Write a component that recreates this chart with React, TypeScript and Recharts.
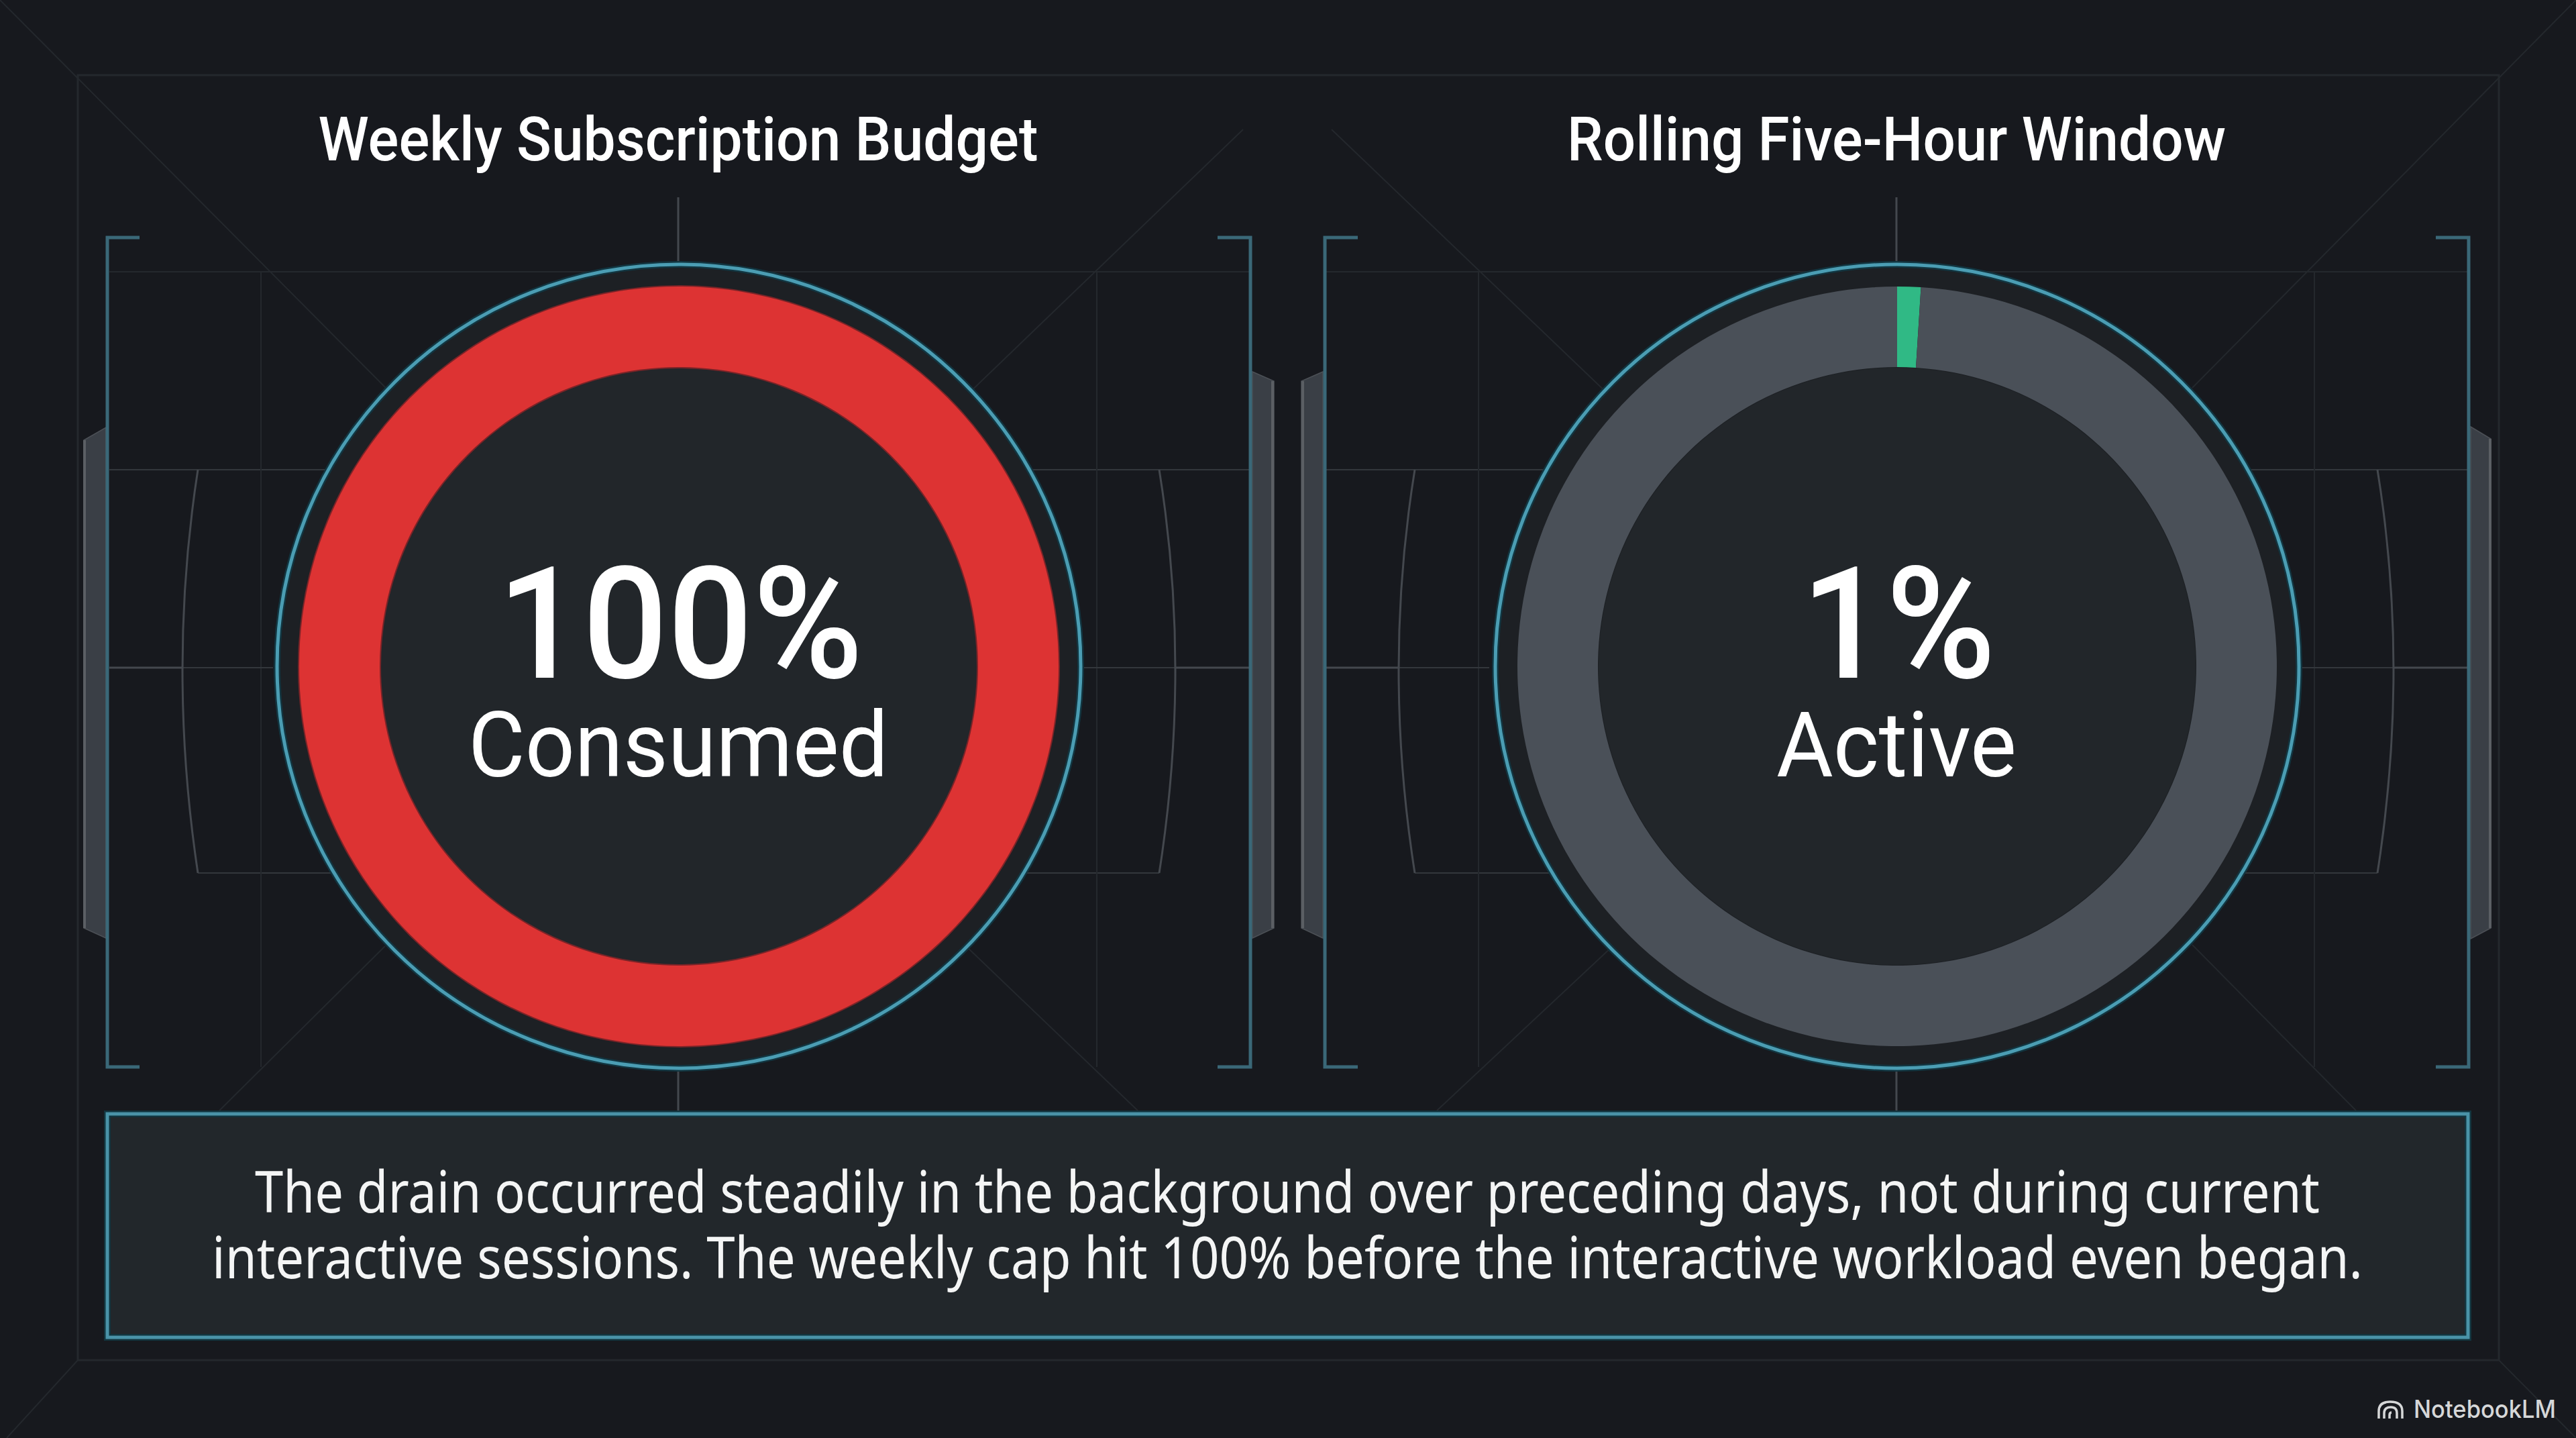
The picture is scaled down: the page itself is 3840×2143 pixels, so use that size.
import React from "react";
import { PieChart, Pie, Cell } from "recharts";

const W = 3840;
const H = 2143;

const weeklyLabels = ["Consumed", "Remaining"];
const weeklyValues = [100, 0];
const weeklyColors = ["#dd3333", "#4a5058"];
const rollingLabels = ["Active", "Idle"];
const rollingValues = [1, 99];
const rollingColors = ["#30b985", "#4a5058"];

const titles = ["Weekly Subscription Budget", "Rolling Five-Hour Window"];
const bigLabels = ["100%", "1%"];
const subLabels = ["Consumed", "Active"];
const noteLines = [
  "The drain occurred steadily in the background over preceding days, not during current",
  "interactive sessions. The weekly cap hit 100% before the interactive workload even began.",
];
const brand = "NotebookLM";

const weeklyData = weeklyLabels.map((name, i) => ({ name, value: weeklyValues[i] }));
const rollingData = rollingLabels.map((name, i) => ({ name, value: rollingValues[i] }));

const CY = 993;
const CX = [1012, 2828];
const TX = [1011, 2827];
const R_IN = 446;
const R_OUT = 566;
const R_RING = 599;

const FAINT = "#24282d";
const MID = "#33373c";
const STRONG = "#44484e";
const TEAL = "#4b9db3";
const BRACKET = "#3a6878";
const TRAP = "#3a3f46";
const TRAP_EDGE = "#5b5f64";

function L({ p, c = FAINT, w = 2 }: { p: number[]; c?: string; w?: number }) {
  return <line x1={p[0]} y1={p[1]} x2={p[2]} y2={p[3]} stroke={c} strokeWidth={w} />;
}

function Trap({ pts, edge }: { pts: number[][]; edge: number[] }) {
  return (
    <g>
      <polygon points={pts.map((q) => q.join(",")).join(" ")} fill={TRAP} stroke="#4c5056" strokeWidth={1.5} />
      <L p={edge} c={TRAP_EDGE} w={4} />
    </g>
  );
}

function Decor() {
  return (
    <svg width={W} height={H} style={{ position: "absolute", left: 0, top: 0 }}>
      {/* outer frame and diagonals */}
      <rect x={116} y={112} width={3609} height={1915} fill="none" stroke={FAINT} strokeWidth={3} />
      <L p={[0, 0, 575, 578]} />
      <L p={[3840, 0, 3268, 578]} />
      <L p={[327, 1655, 574, 1410]} />
      <L p={[3512, 1655, 3268, 1408]} />
      <L p={[1853, 193, 1440, 590]} />
      <L p={[1985, 193, 2400, 590]} />
      <L p={[1696, 1655, 1440, 1410]} />
      <L p={[2142, 1655, 2404, 1410]} />
      <L p={[116, 2027, 10, 2143]} />
      <L p={[3725, 2027, 3840, 2143]} />

      {/* grid */}
      <L p={[163, 405, 1862, 405]} />
      <L p={[1977, 405, 3678, 405]} />
      <L p={[163, 700, 1862, 700]} c={MID} />
      <L p={[1977, 700, 3678, 700]} c={MID} />
      <L p={[295, 1301, 1728, 1301]} c={MID} />
      <L p={[2109, 1301, 3544, 1301]} c={MID} />
      {[389, 1635, 2204, 3450].map((x) => (
        <L key={x} p={[x, 405, x, 1590]} />
      ))}
      <L p={[163, 995, 272, 995]} c={STRONG} w={3} />
      <L p={[272, 995, 407, 995]} c={MID} />
      <L p={[1615, 995, 1752, 995]} c={MID} />
      <L p={[1752, 995, 1862, 995]} c={STRONG} w={3} />
      <L p={[1977, 995, 2085, 995]} c={STRONG} w={3} />
      <L p={[2085, 995, 2220, 995]} c={MID} />
      <L p={[3428, 995, 3568, 995]} c={MID} />
      <L p={[3568, 995, 3678, 995]} c={STRONG} w={3} />
      {TX.map((x) => (
        <g key={x}>
          <L p={[x, 294, x, 395]} c={STRONG} w={3} />
          <L p={[x, 1592, x, 1660]} c={STRONG} w={3} />
        </g>
      ))}

      {/* side arcs */}
      <path d="M295 700 Q249 996 295 1301" fill="none" stroke={STRONG} strokeWidth={3} />
      <path d="M1728 700 Q1776 996 1728 1301" fill="none" stroke={STRONG} strokeWidth={3} />
      <path d="M2109 700 Q2061 996 2109 1301" fill="none" stroke={STRONG} strokeWidth={3} />
      <path d="M3544 700 Q3592 996 3544 1301" fill="none" stroke={STRONG} strokeWidth={3} />

      {/* side tabs */}
      <Trap pts={[[125, 656], [158, 637], [158, 1398], [125, 1383]]} edge={[126, 656, 126, 1383]} />
      <Trap pts={[[1867, 554], [1899, 568], [1899, 1383], [1867, 1398]]} edge={[1897, 568, 1897, 1383]} />
      <Trap pts={[[1972, 554], [1940, 568], [1940, 1383], [1972, 1398]]} edge={[1942, 568, 1942, 1383]} />
      <Trap pts={[[3683, 636], [3713, 654], [3713, 1383], [3683, 1399]]} edge={[3712, 654, 3712, 1383]} />

      {/* brackets */}
      <path d="M208 354 H160 V1590 H208" fill="none" stroke={BRACKET} strokeWidth={5} />
      <path d="M1815 354 H1864 V1590 H1815" fill="none" stroke={BRACKET} strokeWidth={5} />
      <path d="M2024 354 H1975 V1590 H2024" fill="none" stroke={BRACKET} strokeWidth={5} />
      <path d="M3631 354 H3680 V1590 H3631" fill="none" stroke={BRACKET} strokeWidth={5} />

      {/* gauge wells */}
      {CX.map((x, i) => (
        <g key={x}>
          <circle cx={x} cy={CY} r={R_RING} fill="#1d2024" stroke="#123540" strokeWidth={10} />
          <circle cx={x} cy={CY} r={R_RING} fill="none" stroke={TEAL} strokeWidth={5} />
          {i === 0 ? <circle cx={x} cy={CY} r={R_OUT + 2} fill="#7a2428" /> : null}
          <circle
            cx={x}
            cy={CY}
            r={R_IN - 1}
            fill="#22262a"
            stroke={i === 0 ? "#7a2428" : "none"}
            strokeWidth={2}
          />
        </g>
      ))}

      {/* note box */}
      <rect x={160} y={1660} width={3519} height={333} fill="#22272b" stroke="#12353f" strokeWidth={10} />
      <rect x={160} y={1660} width={3519} height={333} fill="none" stroke="#4a93a8" strokeWidth={5} />
    </svg>
  );
}

function Texts() {
  const font = "Roboto, sans-serif";
  const body = "'Noto Sans', sans-serif";
  const titleLen = [1073, 982];
  const bigLen = [545, 290];
  const subLen = [626, 358];
  const noteLen = [3078, 3206];
  const noteY = [1807, 1905];
  return (
    <svg width={W} height={H} style={{ position: "absolute", left: 0, top: 0 }}>
      {TX.map((x, i) => (
        <g key={x} fill="#ffffff" textAnchor="middle" fontFamily={font}>
          <text x={x} y={239} fontSize={90} fontWeight={500} textLength={titleLen[i]} lengthAdjust="spacingAndGlyphs">
            {titles[i]}
          </text>
          <text x={x + 3} y={1010} fontSize={232} fontWeight={500} textLength={bigLen[i]} lengthAdjust="spacingAndGlyphs">
            {bigLabels[i]}
          </text>
          <text x={x} y={1157} fontSize={136} fontWeight={400} textLength={subLen[i]} lengthAdjust="spacingAndGlyphs">
            {subLabels[i]}
          </text>
        </g>
      ))}
      {noteLines.map((t, i) => (
        <text
          key={i}
          x={1919}
          y={noteY[i]}
          fill="#f4f5f5"
          fontFamily={body}
          fontSize={85}
          textAnchor="middle"
          textLength={noteLen[i]}
          lengthAdjust="spacingAndGlyphs"
        >
          {t}
        </text>
      ))}
      <g fill="none" stroke="#d6d7d8" strokeWidth={3.5}>
        <path d="M3546 2114 V2103 Q3546 2089 3563 2089 Q3581 2089 3581 2103 V2114" />
        <path d="M3554 2114 V2106 Q3554 2097 3564 2097 Q3573 2097 3573 2106 V2114" />
        <path d="M3562 2114 V2109 Q3562 2105 3565 2105" />
      </g>
      <text x={3598} y={2113} fill="#d6d7d8" fontFamily="Inter, sans-serif" fontSize={37} fontWeight={500} textLength={212} lengthAdjust="spacingAndGlyphs">
        {brand}
      </text>
    </svg>
  );
}

export default function App() {
  return (
    <div style={{ position: "absolute", left: 0, top: 0, width: W, height: H, background: "#17191e", overflow: "hidden" }}>
      <Decor />
      <div style={{ position: "absolute", left: 0, top: 0 }}>
        <PieChart width={W} height={H} margin={{ top: 0, right: 0, bottom: 0, left: 0 }}>
          <Pie
            data={weeklyData}
            dataKey="value"
            nameKey="name"
            cx={CX[0]}
            cy={CY}
            innerRadius={R_IN}
            outerRadius={R_OUT}
            startAngle={90}
            endAngle={-270}
            stroke="none"
            isAnimationActive={false}
          >
            {weeklyColors.map((c) => (
              <Cell key={c} fill={c} />
            ))}
          </Pie>
          <Pie
            data={rollingData}
            dataKey="value"
            nameKey="name"
            cx={CX[1]}
            cy={CY}
            innerRadius={R_IN}
            outerRadius={R_OUT}
            startAngle={90}
            endAngle={-270}
            stroke="none"
            isAnimationActive={false}
          >
            {rollingColors.map((c) => (
              <Cell key={c} fill={c} />
            ))}
          </Pie>
        </PieChart>
      </div>
      <Texts />
    </div>
  );
}
